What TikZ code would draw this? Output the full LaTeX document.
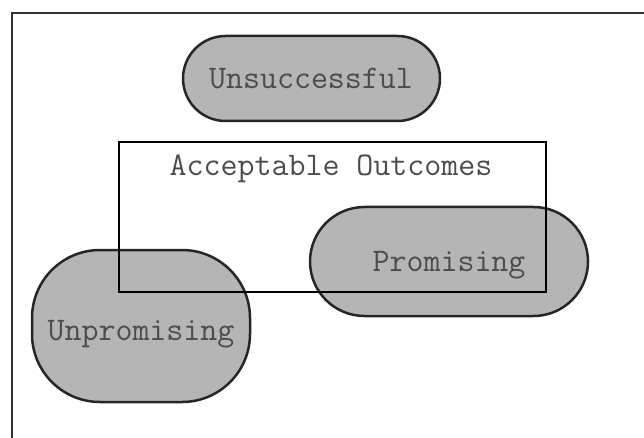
\documentclass[tikz,border=0pt]{standalone}
\begin{document}
\begin{tikzpicture}[x=1pt,y=-1pt,
  blob/.style={draw=black!85,line width=2.5pt,fill=black!29},
  lbl/.style={font=\ttfamily\fontsize{33}{35}\selectfont,text=black!70,inner sep=0pt}]
\useasboundingbox (0,0) rectangle (644,438);
\draw[line width=2.8pt,black!80] (12,13) rectangle (680,480);
% Unsuccessful
\draw[blob,rounded corners=42.5pt] (183,36) rectangle (440,121);
\coordinate (u) at (311,79);
% Promising
\draw[blob,rounded corners=54.5pt] (310,207) rectangle (588,316);
\coordinate (p) at (449,265);
% Unpromising
\draw[blob,rounded corners=68pt] (32,250) rectangle (250,402);
\coordinate (q) at (141,334);
% Acceptable outcomes
\node[draw=black,line width=2.9pt,minimum width=427pt,minimum height=150pt,inner sep=0pt] (acc) at (332.5,217) {};
\node[lbl] (ut) at (u) {Unsuccessful};
\node[lbl] (pt) at (p) {Promising};
\node[lbl] (qt) at (q) {Unpromising};
\node[lbl] (at) at (331,169) {Acceptable Outcomes};
\end{tikzpicture}
\end{document}
